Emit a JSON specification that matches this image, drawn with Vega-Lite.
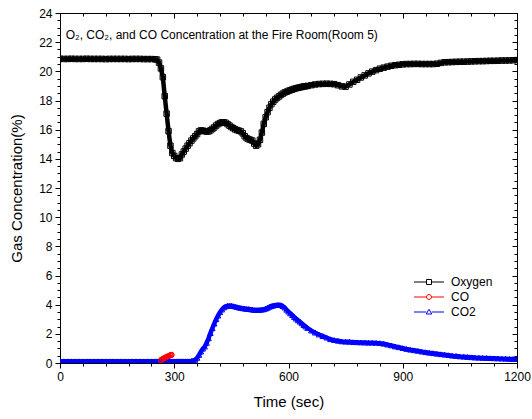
{
  "$schema": "https://vega.github.io/schema/vega-lite/v6.json",
  "width": 457,
  "height": 350,
  "autosize": "none",
  "padding": {"left": 60, "top": 13, "right": 15, "bottom": 56},
  "config": {
    "font": "Liberation Sans",
    "view": {"stroke": "black", "strokeWidth": 1},
    "axis": {"grid": false, "domainColor": "black", "tickColor": "black", "labelColor": "black", "titleColor": "black", "labelFont": "Liberation Sans", "titleFont": "Liberation Sans", "titleFontWeight": "normal", "labelFontSize": 12, "titleFontSize": 15}
  },
  "data": {"values": [
    {"t":0,"Oxygen":20.86,"CO2":0.12},{"t":10,"Oxygen":20.85,"CO2":0.12},{"t":20,"Oxygen":20.85,"CO2":0.12},{"t":30,"Oxygen":20.86,"CO2":0.12},{"t":40,"Oxygen":20.85,"CO2":0.12},{"t":50,"Oxygen":20.85,"CO2":0.12},{"t":60,"Oxygen":20.85,"CO2":0.12},{"t":70,"Oxygen":20.86,"CO2":0.12},{"t":80,"Oxygen":20.85,"CO2":0.12},{"t":90,"Oxygen":20.85,"CO2":0.12},{"t":100,"Oxygen":20.85,"CO2":0.12},{"t":110,"Oxygen":20.85,"CO2":0.12},{"t":120,"Oxygen":20.84,"CO2":0.12},{"t":130,"Oxygen":20.85,"CO2":0.12},{"t":140,"Oxygen":20.85,"CO2":0.12},{"t":150,"Oxygen":20.85,"CO2":0.12},{"t":160,"Oxygen":20.85,"CO2":0.12},{"t":170,"Oxygen":20.85,"CO2":0.12},{"t":180,"Oxygen":20.84,"CO2":0.12},{"t":190,"Oxygen":20.85,"CO2":0.12},{"t":200,"Oxygen":20.85,"CO2":0.12},{"t":210,"Oxygen":20.85,"CO2":0.12},{"t":220,"Oxygen":20.84,"CO2":0.12},{"t":230,"Oxygen":20.84,"CO2":0.12},{"t":240,"Oxygen":20.84,"CO2":0.12},{"t":250,"Oxygen":20.83,"CO2":0.12},
    {"t":255,"Oxygen":20.8,"CO2":0.12},{"t":260,"Oxygen":20.6,"CO2":0.12},{"t":265,"Oxygen":20.2,"CO2":0.12,"CO":0.2},{"t":270,"Oxygen":19.6,"CO2":0.12,"CO":0.28},{"t":275,"Oxygen":18.3,"CO2":0.12,"CO":0.35},{"t":280,"Oxygen":17.1,"CO2":0.12,"CO":0.42},{"t":285,"Oxygen":15.9,"CO2":0.12,"CO":0.48},{"t":290,"Oxygen":14.9,"CO2":0.12,"CO":0.54},{"t":293,"CO":0.56},{"t":295,"Oxygen":14.4,"CO2":0.12},{"t":300,"Oxygen":14.2,"CO2":0.12},{"t":305,"Oxygen":14.05,"CO2":0.12},{"t":310,"Oxygen":14.0,"CO2":0.12},{"t":315,"Oxygen":14.05,"CO2":0.12},{"t":320,"Oxygen":14.3,"CO2":0.12},{"t":325,"Oxygen":14.5,"CO2":0.12},{"t":330,"Oxygen":14.7,"CO2":0.12},{"t":335,"Oxygen":14.9,"CO2":0.12},{"t":340,"Oxygen":15.07,"CO2":0.12},{"t":345,"Oxygen":15.25,"CO2":0.14},{"t":350,"Oxygen":15.4,"CO2":0.17},{"t":355,"Oxygen":15.55,"CO2":0.22},{"t":360,"Oxygen":15.7,"CO2":0.35},{"t":365,"Oxygen":15.88,"CO2":0.55},{"t":370,"Oxygen":15.95,"CO2":0.78},{"t":375,"Oxygen":15.93,"CO2":0.98},{"t":380,"Oxygen":15.9,"CO2":1.12},{"t":385,"Oxygen":15.87,"CO2":1.38},{"t":390,"Oxygen":15.88,"CO2":1.69},{"t":395,"Oxygen":15.95,"CO2":2.05},{"t":400,"Oxygen":16.05,"CO2":2.38},{"t":405,"Oxygen":16.15,"CO2":2.7},{"t":410,"Oxygen":16.28,"CO2":3.0},{"t":415,"Oxygen":16.38,"CO2":3.25},{"t":420,"Oxygen":16.45,"CO2":3.48},{"t":425,"Oxygen":16.5,"CO2":3.66},{"t":430,"Oxygen":16.5,"CO2":3.8},{"t":435,"Oxygen":16.47,"CO2":3.88},{"t":440,"Oxygen":16.38,"CO2":3.92},{"t":445,"Oxygen":16.28,"CO2":3.93},{"t":450,"Oxygen":16.18,"CO2":3.93},{"t":455,"Oxygen":16.1,"CO2":3.9},{"t":460,"Oxygen":16.02,"CO2":3.87},{"t":465,"Oxygen":15.97,"CO2":3.83},{"t":470,"Oxygen":15.93,"CO2":3.8},{"t":475,"Oxygen":15.88,"CO2":3.77},{"t":480,"Oxygen":15.75,"CO2":3.75},{"t":485,"Oxygen":15.55,"CO2":3.73},{"t":490,"Oxygen":15.42,"CO2":3.71},{"t":495,"Oxygen":15.35,"CO2":3.7},{"t":500,"Oxygen":15.3,"CO2":3.68},{"t":505,"Oxygen":15.25,"CO2":3.66},{"t":510,"Oxygen":15.05,"CO2":3.64},{"t":515,"Oxygen":14.9,"CO2":3.63},{"t":520,"Oxygen":15.0,"CO2":3.63},{"t":525,"Oxygen":15.3,"CO2":3.64},{"t":530,"Oxygen":15.8,"CO2":3.66},{"t":535,"Oxygen":16.4,"CO2":3.68},{"t":540,"Oxygen":16.85,"CO2":3.72},{"t":545,"Oxygen":17.2,"CO2":3.78},{"t":550,"Oxygen":17.5,"CO2":3.85},{"t":555,"Oxygen":17.75,"CO2":3.9},{"t":560,"Oxygen":17.92,"CO2":3.94},{"t":565,"Oxygen":18.07,"CO2":3.96},{"t":570,"Oxygen":18.18,"CO2":3.98},{"t":575,"Oxygen":18.28,"CO2":3.98},{"t":580,"Oxygen":18.38,"CO2":3.97},{"t":585,"Oxygen":18.47,"CO2":3.9},{"t":590,"Oxygen":18.55,"CO2":3.8},{"t":595,"Oxygen":18.6,"CO2":3.65},{"t":600,"Oxygen":18.66,"CO2":3.52},{"t":605,"Oxygen":18.71,"CO2":3.4},{"t":610,"Oxygen":18.75,"CO2":3.28},{"t":615,"Oxygen":18.8,"CO2":3.15},{"t":620,"Oxygen":18.84,"CO2":3.04},{"t":625,"Oxygen":18.87,"CO2":2.93},{"t":630,"Oxygen":18.9,"CO2":2.83},{"t":635,"Oxygen":18.93,"CO2":2.72},{"t":640,"Oxygen":18.96,"CO2":2.6},{"t":645,"Oxygen":18.98,"CO2":2.5},{"t":650,"Oxygen":19.0,"CO2":2.4},
    {"t":660,"Oxygen":19.05,"CO2":2.22},{"t":670,"Oxygen":19.1,"CO2":2.08},{"t":680,"Oxygen":19.13,"CO2":1.95},{"t":690,"Oxygen":19.14,"CO2":1.84},{"t":700,"Oxygen":19.15,"CO2":1.74},{"t":710,"Oxygen":19.14,"CO2":1.63},{"t":720,"Oxygen":19.12,"CO2":1.57},{"t":730,"Oxygen":19.05,"CO2":1.52},{"t":740,"Oxygen":18.97,"CO2":1.48},{"t":750,"Oxygen":18.95,"CO2":1.46},{"t":760,"Oxygen":19.1,"CO2":1.45},{"t":770,"Oxygen":19.28,"CO2":1.43},{"t":780,"Oxygen":19.42,"CO2":1.42},{"t":790,"Oxygen":19.58,"CO2":1.41},{"t":800,"Oxygen":19.72,"CO2":1.4},{"t":810,"Oxygen":19.86,"CO2":1.39},{"t":820,"Oxygen":19.98,"CO2":1.39},{"t":830,"Oxygen":20.08,"CO2":1.38},{"t":840,"Oxygen":20.18,"CO2":1.36},{"t":850,"Oxygen":20.25,"CO2":1.32},{"t":860,"Oxygen":20.32,"CO2":1.26},{"t":870,"Oxygen":20.38,"CO2":1.2},{"t":880,"Oxygen":20.42,"CO2":1.13},{"t":890,"Oxygen":20.45,"CO2":1.08},{"t":900,"Oxygen":20.48,"CO2":1.02},{"t":910,"Oxygen":20.5,"CO2":0.96},{"t":920,"Oxygen":20.5,"CO2":0.91},{"t":930,"Oxygen":20.51,"CO2":0.87},{"t":940,"Oxygen":20.51,"CO2":0.83},{"t":950,"Oxygen":20.5,"CO2":0.78},{"t":960,"Oxygen":20.5,"CO2":0.74},{"t":970,"Oxygen":20.5,"CO2":0.7},{"t":980,"Oxygen":20.5,"CO2":0.67},{"t":990,"Oxygen":20.52,"CO2":0.63},{"t":1000,"Oxygen":20.58,"CO2":0.6},{"t":1010,"Oxygen":20.62,"CO2":0.57},{"t":1020,"Oxygen":20.63,"CO2":0.54},{"t":1030,"Oxygen":20.64,"CO2":0.5},{"t":1040,"Oxygen":20.65,"CO2":0.48},{"t":1050,"Oxygen":20.66,"CO2":0.45},{"t":1060,"Oxygen":20.66,"CO2":0.43},{"t":1070,"Oxygen":20.67,"CO2":0.41},{"t":1080,"Oxygen":20.68,"CO2":0.39},{"t":1090,"Oxygen":20.69,"CO2":0.37},{"t":1100,"Oxygen":20.7,"CO2":0.36},{"t":1110,"Oxygen":20.7,"CO2":0.35},{"t":1120,"Oxygen":20.71,"CO2":0.34},{"t":1130,"Oxygen":20.72,"CO2":0.33},{"t":1140,"Oxygen":20.72,"CO2":0.32},{"t":1150,"Oxygen":20.73,"CO2":0.31},{"t":1160,"Oxygen":20.74,"CO2":0.3},{"t":1170,"Oxygen":20.74,"CO2":0.29},{"t":1180,"Oxygen":20.75,"CO2":0.28},{"t":1190,"Oxygen":20.76,"CO2":0.27},{"t":1200,"Oxygen":20.77,"CO2":0.27}
  ]},
  "transform": [
    {"fold": ["Oxygen", "CO", "CO2"], "as": ["series", "value"]},
    {"filter": "isValid(datum.value)"}
  ],
  "resolve": {"axis": {"x": "independent", "y": "independent"}},
  "layer": [
    {
      "mark": {"type": "line", "strokeWidth": 4.5, "clip": true},
      "encoding": {
        "x": {"field": "t", "type": "quantitative", "scale": {"domain": [0, 1200], "nice": false},
              "axis": {"orient": "bottom", "values": [0, 300, 600, 900, 1200], "format": "d", "tickSize": 5, "labelPadding": 3, "title": "Time (sec)", "titlePadding": 12, "titleFontWeight": "normal", "labelFlush": false}},
        "y": {"field": "value", "type": "quantitative", "scale": {"domain": [0, 24], "nice": false},
              "axis": {"orient": "left", "values": [0, 2, 4, 6, 8, 10, 12, 14, 16, 18, 20, 22, 24], "tickSize": 5, "labelPadding": 3, "title": "Gas Concentration(%)", "titlePadding": 14, "titleFontWeight": "normal", "labelFlush": false}},
        "color": {"field": "series", "type": "nominal",
                  "scale": {"domain": ["Oxygen", "CO", "CO2"], "range": ["black", "red", "blue"]},
                  "legend": {"title": null, "orient": "none", "legendX": 348, "legendY": 263, "padding": 0,
                             "symbolSize": 100, "symbolOffset": 15, "labelOffset": 16, "rowPadding": 3,
                             "labelFontSize": 12, "labelColor": "black", "labelFont": "Liberation Sans", "symbolStrokeWidth": 1,
                             "encode": {"symbols": {"update": {
                               "shape": {"signal": "datum.value === 'Oxygen' ? 'M-3,0H-0.5M0.5,0H3M-0.5,-0.5H0.5V0.5H-0.5Z' : (datum.value === 'CO' ? 'M-3,0H-0.5M0.5,0H3M-0.5,0A0.5,0.5,0,1,1,0.5,0A0.5,0.5,0,1,1,-0.5,0Z' : 'M-3,0H-0.55M0.55,0H3M0,-0.55L0.55,0.4L-0.55,0.4Z')"},
                               "fill": {"value": "transparent"},
                               "strokeWidth": {"value": 1}
                             }}}}}
      }
    },
    {
      "transform": [{"filter": "datum.series === 'Oxygen'"}],
      "mark": {"type": "point", "shape": "square", "filled": false, "color": "black", "size": 30, "strokeWidth": 1, "opacity": 1, "clip": true},
      "encoding": {
        "x": {"field": "t", "type": "quantitative", "scale": {"domain": [0, 1200], "nice": false},
              "axis": {"orient": "bottom", "values": [60,120,180,240,360,420,480,540,660,720,780,840,960,1020,1080,1140], "tickSize": 3, "labels": false, "domain": false, "title": null}},
        "y": {"field": "value", "type": "quantitative", "scale": {"domain": [0, 24], "nice": false},
              "axis": {"orient": "left", "values": [1,3,5,7,9,11,13,15,17,19,21,23,0.5,1.5,2.5,3.5,4.5,5.5,6.5,7.5,8.5,9.5,10.5,11.5,12.5,13.5,14.5,15.5,16.5,17.5,18.5,19.5,20.5,21.5,22.5,23.5], "tickSize": 3, "labels": false, "domain": false, "title": null}}
      }
    },
    {
      "transform": [{"filter": "datum.series === 'CO2'"}],
      "mark": {"type": "point", "shape": "triangle-up", "filled": false, "color": "blue", "size": 30, "strokeWidth": 1, "opacity": 1, "clip": true},
      "encoding": {
        "x": {"field": "t", "type": "quantitative", "scale": {"domain": [0, 1200], "nice": false},
              "axis": {"orient": "top", "values": [0, 300, 600, 900, 1200], "tickSize": -5, "labels": false, "domain": false, "title": null}},
        "y": {"field": "value", "type": "quantitative", "scale": {"domain": [0, 24], "nice": false},
              "axis": {"orient": "right", "values": [0, 2, 4, 6, 8, 10, 12, 14, 16, 18, 20, 22, 24], "tickSize": -5, "labels": false, "domain": false, "title": null}}
      }
    },
    {
      "transform": [{"filter": "datum.series === 'CO'"}],
      "mark": {"type": "point", "shape": "circle", "filled": false, "color": "red", "size": 24, "strokeWidth": 1.2, "opacity": 1, "clip": true},
      "encoding": {
        "x": {"field": "t", "type": "quantitative", "scale": {"domain": [0, 1200], "nice": false},
              "axis": {"orient": "top", "values": [60,120,180,240,360,420,480,540,660,720,780,840,960,1020,1080,1140], "tickSize": -3, "labels": false, "domain": false, "title": null}},
        "y": {"field": "value", "type": "quantitative", "scale": {"domain": [0, 24], "nice": false},
              "axis": {"orient": "right", "values": [1,3,5,7,9,11,13,15,17,19,21,23,0.5,1.5,2.5,3.5,4.5,5.5,6.5,7.5,8.5,9.5,10.5,11.5,12.5,13.5,14.5,15.5,16.5,17.5,18.5,19.5,20.5,21.5,22.5,23.5], "tickSize": -3, "labels": false, "domain": false, "title": null}}
      }
    },
    {
      "data": {"values": [{"label": "O₂, CO₂, and CO Concentration at the Fire Room(Room 5)"}]},
      "mark": {"type": "text", "align": "left", "baseline": "middle", "fontSize": 12, "color": "black", "font": "Liberation Sans"},
      "encoding": {
        "x": {"datum": 15, "type": "quantitative", "scale": {"domain": [0, 1200], "nice": false}, "axis": null},
        "y": {"datum": 22.5, "type": "quantitative", "scale": {"domain": [0, 24], "nice": false}, "axis": null},
        "text": {"field": "label"}
      }
    }
  ]
}
